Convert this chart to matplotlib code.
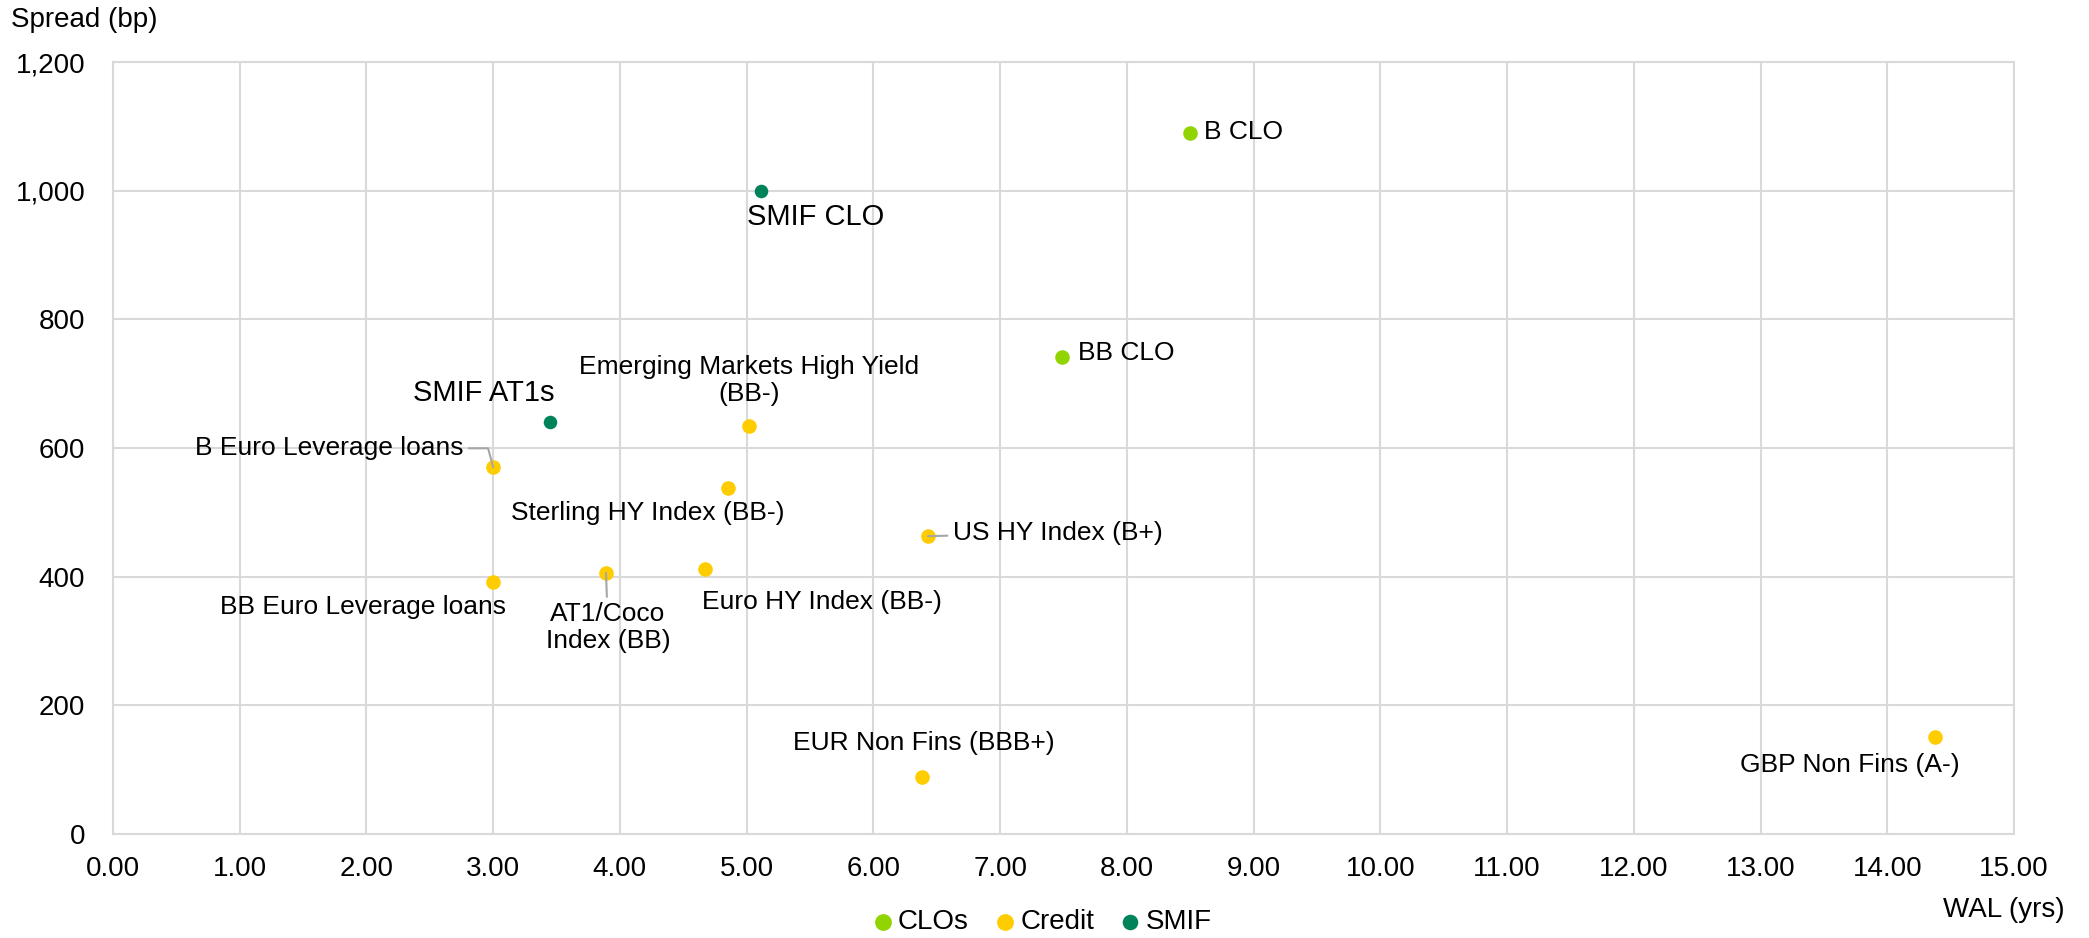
import matplotlib
matplotlib.use("Agg")
import matplotlib.pyplot as plt
from matplotlib.ticker import FuncFormatter, MultipleLocator

plt.rcParams['font.family'] = ['Liberation Sans', 'DejaVu Sans']

# data
names = ["B CLO", "BB CLO",
         "Emerging Markets High Yield\n(BB-)", "Sterling HY Index (BB-)", "US HY Index (B+)",
         "B Euro Leverage loans", "BB Euro Leverage loans", "AT1/Coco\nIndex (BB)",
         "Euro HY Index (BB-)", "EUR Non Fins (BBB+)", "GBP Non Fins (A-)",
         "SMIF CLO", "SMIF AT1s"]
groups = ["CLOs", "CLOs",
          "Credit", "Credit", "Credit", "Credit", "Credit", "Credit",
          "Credit", "Credit", "Credit",
          "SMIF", "SMIF"]
wal = [8.50, 7.49, 5.02, 4.85, 6.43, 3.00, 3.00, 3.89, 4.67, 6.38, 14.38, 5.11, 3.45]
spread = [1089, 741, 634, 538, 463, 570, 391, 406, 412, 89, 151, 1000, 640]

colors = {"CLOs": "#92D400", "Credit": "#FFCC00", "SMIF": "#00835A"}

# label offsets in pixels from the point, alignment, font size, leader style
label_style = {
    "B CLO": ((14, 1), "left", 19, None),
    "BB CLO": ((16, 4), "left", 19, None),
    "Emerging Markets High Yield\n(BB-)": ((0, 46), "center", 19, None),
    "Sterling HY Index (BB-)": ((-80, -25), "center", 19, None),
    "US HY Index (B+)": ((25, 3), "left", 19, "arc3"),
    "B Euro Leverage loans": ((-30, 19), "right", 19, "angle,angleA=0,angleB=105,rad=0"),
    "BB Euro Leverage loans": ((-130, -25), "center", 19, None),
    "AT1/Coco\nIndex (BB)": ((2, -55), "center", 19, "arc3"),
    "Euro HY Index (BB-)": ((117, -33), "center", 19, None),
    "EUR Non Fins (BBB+)": ((2, 34), "center", 19, None),
    "GBP Non Fins (A-)": ((-86, -28), "center", 19, None),
    "SMIF CLO": ((55, -26), "center", 21, None),
    "SMIF AT1s": ((-66, 29), "center", 21, None),
}

fig = plt.figure(figsize=(20.89, 9.38), dpi=100)
ax = fig.add_axes([113 / 2089, 1 - 834 / 938, (2014 - 113) / 2089, (834 - 62) / 938])

for g in ["CLOs", "Credit", "SMIF"]:
    xs = [x for x, gg in zip(wal, groups) if gg == g]
    ys = [y for y, gg in zip(spread, groups) if gg == g]
    ax.scatter(xs, ys, s=110 if g != "SMIF" else 95, color=colors[g], label=g,
               zorder=3, linewidths=0)

for n, x, y in zip(names, wal, spread):
    off, ha, fs, conn = label_style[n]
    kw = {}
    if conn is not None:
        kw["arrowprops"] = dict(arrowstyle="-", color="#A6A6A6", lw=1.5,
                                connectionstyle=conn, shrinkA=2, shrinkB=0)
    ax.annotate(n, (x, y), xytext=off, textcoords="offset pixels",
                ha=ha, va="center", fontsize=fs, color="#000000",
                multialignment="center", linespacing=1.15, zorder=4, **kw)

ax.set_xlim(0, 15)
ax.set_ylim(0, 1200)
ax.xaxis.set_major_locator(MultipleLocator(1))
ax.yaxis.set_major_locator(MultipleLocator(200))
ax.xaxis.set_major_formatter(FuncFormatter(lambda v, p: f"{v:.2f}"))
ax.yaxis.set_major_formatter(FuncFormatter(lambda v, p: f"{v:,.0f}"))
ax.tick_params(axis="both", length=0, labelsize=20, colors="#000000")
ax.tick_params(axis="y", pad=20)
ax.tick_params(axis="x", pad=16)
ax.grid(True, color="#D9D9D9", lw=1.5, zorder=0)
ax.set_axisbelow(True)
for s in ax.spines.values():
    s.set_color("#D9D9D9")
    s.set_linewidth(1.5)

fig.text(11 / 2089, 1 - 20 / 938, "Spread (bp)", fontsize=20, ha="left", va="center")
fig.text(2065 / 2089, 1 - 910 / 938, "WAL (yrs)", fontsize=20, ha="right", va="center")

fig.legend(loc="center", bbox_to_anchor=(1043 / 2089, 1 - 922 / 938), ncol=3,
           frameon=False, fontsize=20, handlelength=0.6, handletextpad=0.25,
           columnspacing=1.0, markerscale=1.15, borderaxespad=0)

fig.savefig("out.png", dpi=100)
